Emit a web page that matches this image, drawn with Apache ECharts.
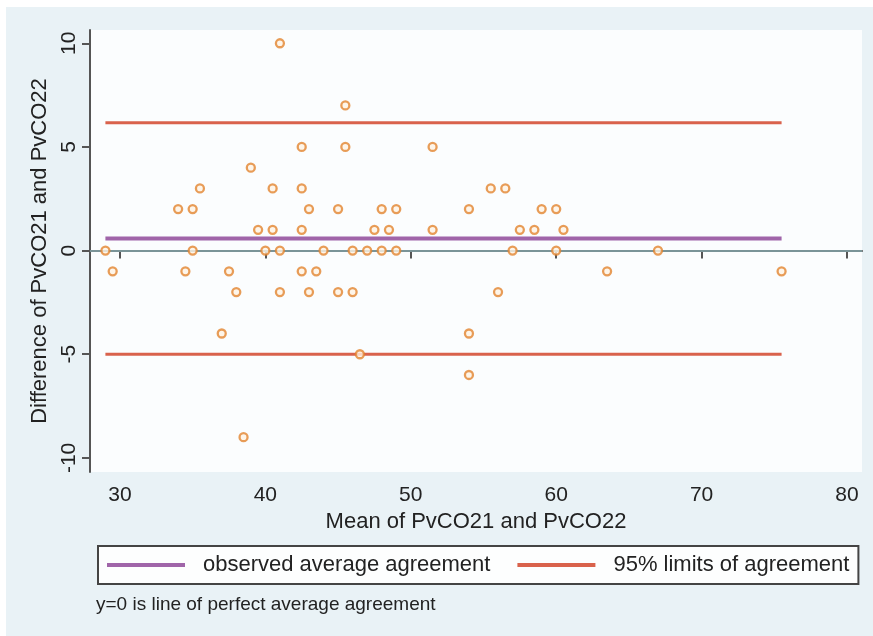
<!DOCTYPE html>
<html>
<head>
<meta charset="utf-8">
<script src="https://cdn.jsdelivr.net/npm/echarts@6/dist/echarts.min.js"></script>
<style>
  html, body { margin: 0; padding: 0; background: #fff; }
  #chart { width: 873px; height: 636px; }
</style>
</head>
<body>
<div id="chart"></div>
<script>
// mean of the two readings (x) and their difference (y), one entry per subject
var means = [
    41,
    45.5,
    42.5, 45.5, 51.5,
    39,
    35.5, 40.5, 42.5, 55.5, 56.5,
    34, 35, 43, 45, 48, 49, 54, 59, 60,
    39.5, 40.5, 42.5, 47.5, 48.5, 51.5, 57.5, 58.5, 60.5,
    29, 35, 40, 41, 44, 46, 47, 48, 49, 57, 60, 67,
    29.5, 34.5, 37.5, 42.5, 43.5, 63.5, 75.5,
    38, 41, 43, 45, 46, 56,
    37, 54,
    46.5,
    54,
    38.5
];
var diffs = [
    10,
    7,
    5, 5, 5,
    4,
    3, 3, 3, 3, 3,
    2, 2, 2, 2, 2, 2, 2, 2, 2,
    1, 1, 1, 1, 1, 1, 1, 1, 1,
    0, 0, 0, 0, 0, 0, 0, 0, 0, 0, 0, 0,
    -1, -1, -1, -1, -1, -1, -1,
    -2, -2, -2, -2, -2, -2,
    -4, -4,
    -5,
    -6,
    -9
];

var meanDiff = 0.58;
var upperLimit = 6.17;
var lowerLimit = -5.0;
var lineFrom = 29;
var lineTo = 75.5;
var perfectLine = 0;

var xTicks = [30, 40, 50, 60, 70, 80];
var yTicks = [-10, -5, 0, 5, 10];

var font = "'Liberation Sans', Arial, sans-serif";

var points = [];
for (var i = 0; i < means.length; i++) {
    points.push([means[i], diffs[i]]);
}

var chart = echarts.init(document.getElementById('chart'));

var option = {
    backgroundColor: '#e9f2f6',
    animation: false,
    textStyle: { fontFamily: font },
    graphic: [
        { type: 'rect', shape: { x: 0, y: 0, width: 873, height: 7 }, style: { fill: '#fff' } },
        { type: 'rect', shape: { x: 0, y: 0, width: 6, height: 636 }, style: { fill: '#fff' } }
    ],
    title: {
        text: 'y=0 is line of perfect average agreement',
        left: 96,
        top: 595,
        padding: 0,
        textStyle: { fontFamily: font, fontSize: 19, fontWeight: 'normal', color: '#222' }
    },
    grid: {
        left: 90,
        right: 11,
        top: 30,
        bottom: 164,
        show: true,
        backgroundColor: '#fbfdfe',
        borderWidth: 0,
        outerBoundsMode: 'none'
    },
    legend: {
        left: 98,
        top: 546,
        padding: [8, 9, 8, 9],
        itemGap: 27,
        itemWidth: 78,
        itemHeight: 4,
        icon: 'rect',
        borderColor: '#444',
        borderWidth: 2,
        backgroundColor: '#fdfefe',
        textStyle: { fontFamily: font, fontSize: 22, color: '#222', padding: [0, 0, 0, 13] },
        data: ['observed average agreement', '95% limits of agreement']
    },
    xAxis: {
        type: 'value',
        min: 27.94,
        max: 81.03,
        name: 'Mean of PvCO21 and PvCO22',
        nameLocation: 'middle',
        nameGap: 37,
        nameTextStyle: { fontFamily: font, fontSize: 22, color: '#222', verticalAlign: 'top' },
        axisLine: { lineStyle: { color: '#555', width: 2 } },
        axisTick: { show: true, length: 8, lineStyle: { color: '#555', width: 2 }, customValues: xTicks },
        axisLabel: { fontSize: 21, color: '#222', margin: 13, customValues: xTicks },
        splitLine: { show: false }
    },
    yAxis: {
        type: 'value',
        min: -10.68,
        max: 10.64,
        name: 'Difference of PvCO21 and PvCO22',
        nameLocation: 'middle',
        nameRotate: 90,
        nameGap: 37,
        nameTextStyle: { fontFamily: font, fontSize: 22, color: '#222' },
        axisLine: { lineStyle: { color: '#555', width: 2 } },
        axisTick: { show: true, length: 8, lineStyle: { color: '#555', width: 2 }, customValues: yTicks },
        axisLabel: { fontSize: 21, color: '#222', margin: 10, rotate: 90, customValues: yTicks },
        splitLine: { show: false }
    },
    series: [{
        name: '95% limits of agreement',
        type: 'line',
        symbol: 'none',
        z: 2,
        lineStyle: { color: '#d9624c', width: 3 },
        itemStyle: { color: '#d9624c' },
        data: [[lineFrom, upperLimit], [lineTo, upperLimit]]
    }, {
        name: '95% limits of agreement',
        type: 'line',
        symbol: 'none',
        z: 2,
        lineStyle: { color: '#d9624c', width: 3 },
        itemStyle: { color: '#d9624c' },
        data: [[lineFrom, lowerLimit], [lineTo, lowerLimit]]
    }, {
        name: 'observed average agreement',
        type: 'line',
        symbol: 'none',
        z: 2,
        lineStyle: { color: '#a065a9', width: 4 },
        itemStyle: { color: '#a065a9' },
        data: [[lineFrom, meanDiff], [lineTo, meanDiff]]
    }, {
        name: 'difference',
        type: 'scatter',
        z: 4,
        symbol: 'circle',
        symbolSize: 8,
        itemStyle: { color: '#fff3e4', borderColor: '#e2852f', borderWidth: 2.3 },
        markLine: {
            silent: true,
            symbol: 'none',
            label: { show: false },
            z: 1,
            lineStyle: { color: '#7a9498', width: 2, type: 'solid' },
            data: [{ yAxis: perfectLine }]
        },
        data: points
    }]
};

chart.setOption(option);
window.addEventListener('resize', chart.resize);
</script>
</body>
</html>
